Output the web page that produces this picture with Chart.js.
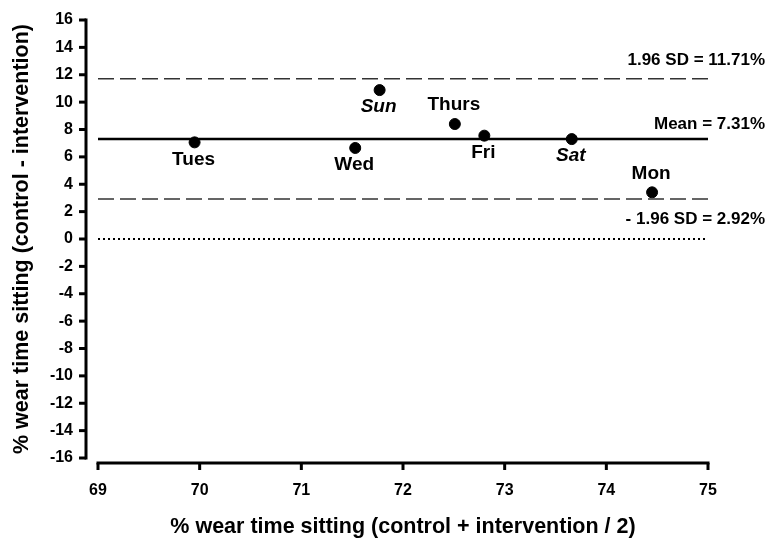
<!DOCTYPE html>
<html>
<head>
<meta charset="utf-8">
<script src="https://cdn.jsdelivr.net/npm/chart.js@4/dist/chart.umd.min.js"></script>
<style>
  html, body { margin: 0; padding: 0; background: #ffffff; }
  #wrap { width: 766px; height: 538px; }
</style>
</head>
<body>
<div id="wrap"><canvas id="c" width="766" height="538"></canvas></div>
<script>
// ---- data ----
const days      = ['Tues', 'Wed', 'Sun', 'Thurs', 'Fri', 'Sat', 'Mon'];
const meanPct   = [69.95, 71.53, 71.77, 72.51, 72.80, 73.66, 74.45];   // (control + intervention) / 2
const diffPct   = [7.06, 6.65, 10.88, 8.40, 7.55, 7.30, 3.41];         // control - intervention
const meanDiff  = 7.31;
const upperLoA  = 11.71;
const lowerLoA  = 2.92;
const zeroLine  = 0;
const xTicks    = [69, 70, 71, 72, 73, 74, 75];
const yTicks    = [-16, -14, -12, -10, -8, -6, -4, -2, 0, 2, 4, 6, 8, 10, 12, 14, 16];
const refLabels = ['1.96 SD = 11.71%', 'Mean = 7.31%', '- 1.96 SD = 2.92%'];

// ---- presentation config ----
const labelAbove = { Thurs: true, Mon: true };
const italicDays = { Sat: true, Sun: true };
const FONT = '"Liberation Sans", Arial, sans-serif';

const points = days.map((d, i) => ({ x: meanPct[i], y: diffPct[i] }));
const hline = v => [{ x: xTicks[0], y: v }, { x: xTicks[xTicks.length - 1], y: v }];

const decor = {
  id: 'decor',
  afterDraw(chart) {
    const { ctx, chartArea, scales: { x, y } } = chart;
    ctx.save();
    // y axis (offset left of plot)
    const ax = chartArea.left - 12;
    ctx.strokeStyle = '#000';
    ctx.lineWidth = 3;
    ctx.lineCap = 'butt';
    ctx.beginPath();
    ctx.moveTo(ax, y.getPixelForValue(yTicks[yTicks.length - 1]) - 1.5);
    ctx.lineTo(ax, y.getPixelForValue(yTicks[0]) + 1.5);
    ctx.stroke();
    yTicks.forEach(t => {
      const py = y.getPixelForValue(t);
      ctx.beginPath();
      ctx.moveTo(ax - 7, py);
      ctx.lineTo(ax, py);
      ctx.stroke();
    });
    // x axis (below plot)
    const ay = chartArea.bottom + 5;
    ctx.beginPath();
    ctx.moveTo(x.getPixelForValue(xTicks[0]) - 1.5, ay);
    ctx.lineTo(x.getPixelForValue(xTicks[xTicks.length - 1]) + 1.5, ay);
    ctx.stroke();
    xTicks.forEach(t => {
      const px = x.getPixelForValue(t);
      ctx.beginPath();
      ctx.moveTo(px, ay);
      ctx.lineTo(px, ay + 7);
      ctx.stroke();
    });

    // reference line labels
    ctx.fillStyle = '#000';
    ctx.font = 'bold 17px ' + FONT;
    ctx.textAlign = 'right';
    ctx.textBaseline = 'middle';
    const rx = chart.width - 1;
    ctx.fillText(refLabels[0], rx, y.getPixelForValue(upperLoA) - 18);
    ctx.fillText(refLabels[1], rx, y.getPixelForValue(meanDiff) - 15);
    ctx.fillText(refLabels[2], rx, y.getPixelForValue(lowerLoA) + 20);

    // point labels
    ctx.textAlign = 'center';
    const meta = chart.getDatasetMeta(chart.data.datasets.length - 1);
    meta.data.forEach((el, i) => {
      const d = days[i];
      ctx.font = (italicDays[d] ? 'italic ' : '') + 'bold 19px ' + FONT;
      const dy = labelAbove[d] ? -19 : 17;
      ctx.fillText(d, el.x - 1, el.y + dy);
    });
    ctx.restore();
  }
};

new Chart(document.getElementById('c'), {
  type: 'scatter',
  data: {
    datasets: [
      { type: 'line', data: hline(zeroLine), borderColor: '#000', borderWidth: 2, borderDash: [2, 3], pointRadius: 0 },
      { type: 'line', data: hline(upperLoA), borderColor: '#333', borderWidth: 1.5, borderDash: [16, 6], pointRadius: 0 },
      { type: 'line', data: hline(lowerLoA), borderColor: '#333', borderWidth: 1.5, borderDash: [16, 6], pointRadius: 0 },
      { type: 'line', data: hline(meanDiff), borderColor: '#000', borderWidth: 2.5, pointRadius: 0 },
      { data: points, backgroundColor: '#000', borderColor: '#000', pointRadius: 5.5, pointHoverRadius: 5.5 }
    ]
  },
  options: {
    responsive: false,
    animation: false,
    devicePixelRatio: 1,
    layout: { padding: { top: 20, right: 58, bottom: 0, left: 0 } },
    plugins: { legend: { display: false }, tooltip: { enabled: false } },
    scales: {
      x: {
        type: 'linear', min: 69, max: 75,
        afterBuildTicks: s => { s.ticks = xTicks.map(v => ({ value: v })); },
        afterFit: s => { s.height = 80; s.paddingLeft = 0; s.paddingRight = 0; },
        grid: { display: false, drawTicks: false },
        border: { display: false },
        ticks: { color: '#000', padding: 23, font: { family: FONT, size: 16, weight: 'bold' } },
        title: { display: true, text: '% wear time sitting (control + intervention / 2)', color: '#000',
                 padding: { top: 0, bottom: 0 }, font: { family: FONT, size: 21.5, weight: 'bold', lineHeight: 1.0 } }
      },
      y: {
        type: 'linear', min: -16, max: 16,
        afterBuildTicks: s => { s.ticks = yTicks.map(v => ({ value: v })); },
        afterFit: s => { s.width = 98; s.paddingTop = 0; s.paddingBottom = 0; },
        grid: { display: false, drawTicks: false },
        border: { display: false },
        ticks: { color: '#000', padding: 25, font: { family: FONT, size: 16, weight: 'bold' } },
        title: { display: true, text: '% wear time sitting (control - intervention)', color: '#000',
                 padding: { top: 11, bottom: 0 }, font: { family: FONT, size: 21.5, weight: 'bold', lineHeight: 1.0 } }
      }
    }
  },
  plugins: [decor]
});
</script>
</body>
</html>
